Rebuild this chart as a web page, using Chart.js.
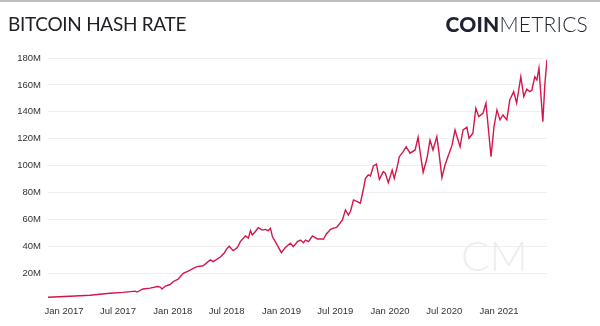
<!DOCTYPE html>
<html>
<head>
<meta charset="utf-8">
<script src="https://cdn.jsdelivr.net/npm/chart.js@4.4.0/dist/chart.umd.min.js"></script>
<style>
    html, body { margin: 0; padding: 0; background: #fff; }
    #wrap { position: relative; width: 600px; height: 326px; overflow: hidden; }
    #topbar { position: absolute; left: 0; top: 0; width: 600px; height: 2px; background: #bdbdbd; }
    #title { position: absolute; left: 8px; top: 12px; font-family: Lato, "Open Sans", sans-serif; font-size: 19px; color: #1f1f24; letter-spacing: -0.3px; }
    #logo { position: absolute; right: 12px; top: 11px; font-family: Lato, sans-serif; font-size: 21px; color: #1d2230; letter-spacing: 0.2px; }
    #logo b { font-weight: 900; }
    #logo span { font-weight: 300; }
    canvas { position: absolute; left: 0; top: 0; }
</style>
</head>
<body>
<div id="wrap">
    <canvas id="chart" width="600" height="326"></canvas>
    <div id="topbar"></div>
    <div id="title">BITCOIN HASH RATE</div>
    <div id="logo"><b>COIN</b><span>METRICS</span></div>
</div>
<script>
// hash rate, millions (TH/s)
const dates = [
    '2016-11-08', '2017-01-21', '2017-03-29', '2017-06-04', '2017-07-18', '2017-08-28', '2017-09-03',
    '2017-09-23', '2017-10-17', '2017-11-10', '2017-11-20', '2017-11-26', '2017-12-07', '2017-12-23',
    '2018-01-02', '2018-01-19', '2018-02-05', '2018-02-22', '2018-03-11', '2018-03-24', '2018-04-13',
    '2018-05-07', '2018-05-17', '2018-06-10', '2018-06-23', '2018-07-03', '2018-07-10', '2018-07-23',
    '2018-08-06', '2018-08-16', '2018-09-02', '2018-09-12', '2018-09-19', '2018-09-25', '2018-10-05',
    '2018-10-15', '2018-10-29', '2018-11-08', '2018-11-18', '2018-11-25', '2018-12-02', '2018-12-15',
    '2019-01-01', '2019-01-14', '2019-01-31', '2019-02-10', '2019-02-24', '2019-03-06', '2019-03-16',
    '2019-03-23', '2019-04-02', '2019-04-15', '2019-05-02', '2019-05-12', '2019-05-22', '2019-06-01',
    '2019-06-15', '2019-06-25', '2019-07-05', '2019-07-12', '2019-07-25', '2019-08-04', '2019-08-14',
    '2019-08-21', '2019-08-31', '2019-09-13', '2019-09-23', '2019-10-03', '2019-10-10', '2019-10-20',
    '2019-10-27', '2019-11-06', '2019-11-16', '2019-11-26', '2019-12-09', '2019-12-16', '2019-12-26',
    '2020-01-08', '2020-01-15', '2020-01-25', '2020-02-01', '2020-02-14', '2020-02-24', '2020-03-08',
    '2020-03-25', '2020-04-04', '2020-04-11', '2020-04-21', '2020-05-04', '2020-05-14', '2020-05-24',
    '2020-06-06', '2020-06-13', '2020-06-23', '2020-07-03', '2020-07-13', '2020-07-27', '2020-08-06',
    '2020-08-23', '2020-09-02', '2020-09-15', '2020-09-22', '2020-10-05', '2020-10-15', '2020-10-25',
    '2020-11-08', '2020-11-18', '2020-11-25', '2020-12-05', '2020-12-15', '2020-12-25', '2021-01-04',
    '2021-01-14', '2021-01-27', '2021-02-06', '2021-02-19', '2021-03-01', '2021-03-15', '2021-03-25',
    '2021-04-04', '2021-04-14', '2021-04-21', '2021-05-01', '2021-05-08', '2021-05-15', '2021-05-28',
    '2021-06-04', '2021-06-11'
];
const hashRate = [
    2.0, 2.8, 3.5, 5.0, 5.7, 6.6, 5.9,
    8.2, 8.8, 10.0, 9.6, 8.2, 10.4, 11.5,
    13.6, 15.5, 19.8, 21.5, 23.6, 24.8, 25.5,
    29.8, 28.5, 32, 35, 38.5, 40, 36.7,
    39, 43.4, 47.6, 46, 51.6, 48.4, 50.8,
    53.8, 52, 52.5, 51.5, 53.3, 47, 42,
    35.2, 39, 42.2, 39.7, 43.4, 44.6, 42.6,
    44.6, 43.4, 47.6, 45.4, 45.5, 45.2, 49.1,
    52.6, 53.5, 54, 55.8, 59.5, 67, 63.2,
    66, 74.4, 73.2, 72, 82, 90.5, 93,
    92.3, 99.7, 101, 89.8, 95.5, 94.3, 87.3,
    96.7, 90.5, 99.2, 106.6, 110.4, 114, 109.2,
    111.6, 121, 110, 95, 105.4, 119, 111.6,
    121.5, 110, 91, 100, 106.6, 115, 126.5,
    114, 126.5, 128.5, 120.3, 124, 142.6, 136.4,
    138.9, 146.4, 130, 106.6, 129, 141.4, 134,
    137.6, 134, 148.8, 155, 146.4, 166, 151.3,
    156.8, 155, 156, 166, 163.7, 172.4, 132.7,
    161, 178.6
];
const tickDates = ['2017-01-01', '2017-07-01', '2018-01-01', '2018-07-01', '2019-01-01',
    '2019-07-01', '2020-01-01', '2020-07-01', '2021-01-01'];
const tickLabels = ['Jan 2017', 'Jul 2017', 'Jan 2018', 'Jul 2018', 'Jan 2019',
    'Jul 2019', 'Jan 2020', 'Jul 2020', 'Jan 2021'];

// days since Jan 1 2017
function toDay(s) {
    const p = s.split('-');
    return (Date.UTC(+p[0], +p[1] - 1, +p[2]) - Date.UTC(2017, 0, 1)) / 86400000;
}

const points = dates.map((d, i) => ({ x: toDay(d), y: hashRate[i] }));
const tickDays = tickDates.map(toDay);

const watermark = {
    id: 'watermark',
    beforeDatasetsDraw(chart) {
        const ctx = chart.ctx;
        ctx.save();
        ctx.fillStyle = '#eceef2';
        ctx.font = '300 42px Lato, sans-serif';
        ctx.textBaseline = 'alphabetic';
        ctx.fillText('CM', 461, 271);
        ctx.restore();
    }
};

new Chart(document.getElementById('chart').getContext('2d'), {
    type: 'line',
    data: {
        datasets: [{
            data: points,
            borderColor: '#d3174b',
            borderWidth: 1.4,
            pointRadius: 0,
            tension: 0,
            fill: false
        }]
    },
    options: {
        responsive: false,
        animation: false,
        layout: { padding: { top: 58, right: 53, left: 0, bottom: 0 } },
        plugins: { legend: { display: false }, tooltip: { enabled: false } },
        scales: {
            x: {
                type: 'linear',
                min: points[0].x,
                max: points[points.length - 1].x,
                afterBuildTicks: scale => {
                    scale.ticks = tickDays.map(v => ({ value: v }));
                },
                afterFit: scale => { scale.height = 26; },
                ticks: {
                    autoSkip: false,
                    maxRotation: 0,
                    padding: 6,
                    color: '#333',
                    font: { family: 'Liberation Sans, Arial, sans-serif', size: 9.5 },
                    callback: value => tickLabels[tickDays.indexOf(value)]
                },
                grid: { display: false, drawTicks: false },
                border: { display: false }
            },
            y: {
                min: 0,
                max: 180,
                afterFit: scale => { scale.width = 48; },
                ticks: {
                    stepSize: 20,
                    padding: 7,
                    color: '#333',
                    font: { family: 'Liberation Sans, Arial, sans-serif', size: 9.5 },
                    callback: value => value === 0 ? '' : value + 'M'
                },
                grid: {
                    drawTicks: false,
                    color: ctx => ctx.tick.value === 0 ? 'rgba(0,0,0,0)' : '#efefef',
                    lineWidth: 1
                },
                border: { display: false }
            }
        }
    },
    plugins: [watermark]
});
</script>
</body>
</html>
